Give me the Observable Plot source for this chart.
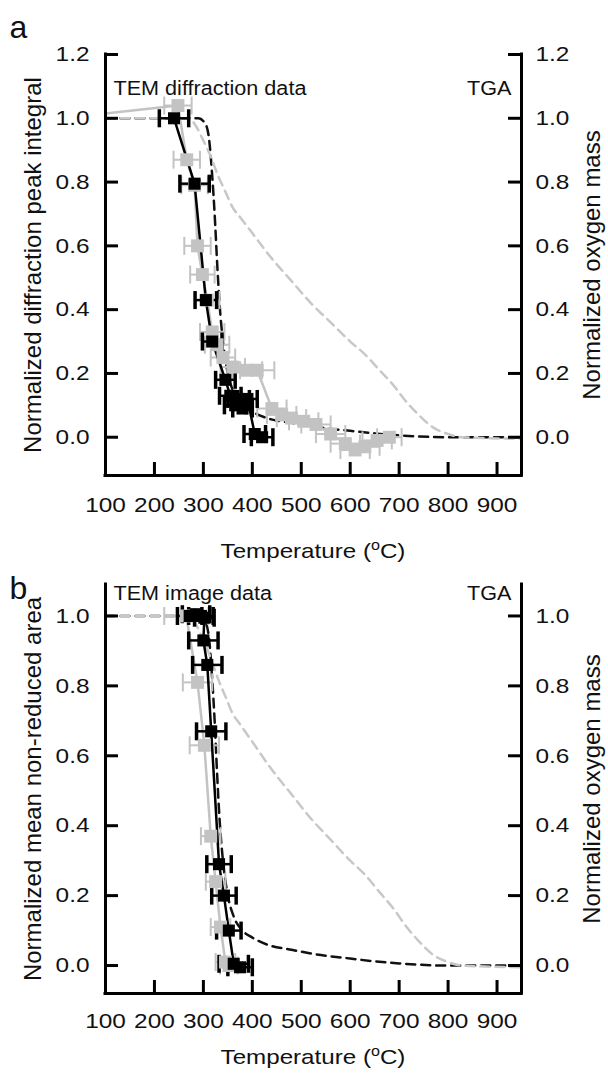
<!DOCTYPE html>
<html><head><meta charset="utf-8">
<script src="https://cdn.jsdelivr.net/npm/d3@7"></script>
<script src="https://cdn.jsdelivr.net/npm/@observablehq/plot@0.6"></script>
<style>
body{margin:0;background:#fff;}
#chart{width:608px;position:relative;}
svg{display:block;}
</style></head><body><div id="chart"></div>
<script>
// ---------- data ----------
const xTicks = [100, 200, 300, 400, 500, 600, 700, 800, 900];
const xDomain = [100, 950];
const yTicksA = [0, 0.2, 0.4, 0.6, 0.8, 1.0, 1.2];
const yDomainA = [-0.12, 1.2];
const yTicksB = [0, 0.2, 0.4, 0.6, 0.8, 1.0];
const yDomainB = [-0.08, 1.09];

// TGA curves (normalized oxygen mass)
const tgaGrayT = [100, 270, 285, 300, 315, 330, 345, 360, 375, 400, 440, 480, 520, 560, 600, 630, 660, 690, 710, 740, 770, 800, 830, 950];
const tgaGrayV = [1.0, 1.0, 0.975, 0.93, 0.88, 0.82, 0.77, 0.72, 0.69, 0.64, 0.56, 0.49, 0.42, 0.36, 0.30, 0.26, 0.21, 0.16, 0.12, 0.07, 0.03, 0.01, 0.0, -0.005];
const tgaBlackT = [100, 290, 305, 312, 318, 323, 328, 333, 340, 350, 362, 380, 400, 430, 480, 540, 600, 650, 700, 800, 950];
const tgaBlackV = [1.0, 1.0, 0.98, 0.93, 0.82, 0.70, 0.55, 0.42, 0.30, 0.20, 0.14, 0.10, 0.08, 0.06, 0.045, 0.03, 0.02, 0.012, 0.006, 0.0, 0.0];

// Panel a: TEM diffraction data
const aBlackT = [240, 282, 305, 318, 345, 355, 365, 372, 380, 390, 405, 420];
const aBlackV = [1.00, 0.795, 0.43, 0.30, 0.18, 0.13, 0.10, 0.12, 0.09, 0.12, 0.01, 0.00];
const aBlackE = [30, 30, 22, 20, 20, 22, 22, 22, 20, 20, 22, 22];
const aGrayT = [248, 266, 282, 288, 298, 308, 318, 328, 340, 360, 390, 410, 440, 460, 480, 505, 530, 560, 590, 610, 630, 655, 680];
const aGrayV = [1.04, 0.87, 0.79, 0.60, 0.51, 0.43, 0.33, 0.29, 0.25, 0.22, 0.21, 0.21, 0.09, 0.07, 0.06, 0.05, 0.04, 0.01, -0.02, -0.04, -0.03, -0.01, 0.00];
const aGrayE = [28, 27, 27, 27, 25, 25, 25, 25, 25, 25, 30, 35, 30, 30, 30, 30, 30, 30, 30, 30, 30, 30, 25];
const aGrayLineStart = {t: 100, v: 1.015};

// Panel b: TEM image data
const bBlackT = [272, 285, 295, 302, 300, 308, 316, 332, 342, 352, 362, 375];
const bBlackV = [1.00, 1.005, 1.00, 0.995, 0.93, 0.86, 0.67, 0.29, 0.20, 0.10, 0.005, -0.005];
const bBlackE = [25, 28, 25, 20, 30, 30, 30, 25, 25, 25, 30, 25];
const bGrayT = [265, 288, 302, 315, 325, 335, 345, 352];
const bGrayV = [1.00, 0.81, 0.63, 0.37, 0.24, 0.11, 0.01, 0.00];
const bGrayE = [45, 30, 30, 20, 20, 20, 20, 18];

// ---------- helpers ----------
const zip = (T, V, E) => T.map((t, i) => ({t, v: V[i], e: E ? E[i] : 0}));
const FONT = "'Liberation Sans', Arial, Helvetica, sans-serif";
const GRAY = "#c3c3c3";
const GRAYDASH = "#c8c8c8";
const vbar = {draw(ctx, size) { const r = Math.sqrt(size / Math.PI); ctx.moveTo(0, -r); ctx.lineTo(0, r); }};
const W = 608, ML = 105, MR = 87;

function seriesMarks(data, color, opt) {
  return [
    Plot.ruleY(data, {y: "v", x1: d => d.t - d.e, x2: d => d.t + d.e, stroke: color, strokeWidth: opt.barW}),
    Plot.dot(data, {x: d => d.t - d.e, y: "v", symbol: vbar, r: opt.capR, stroke: color, strokeWidth: opt.capW}),
    Plot.dot(data, {x: d => d.t + d.e, y: "v", symbol: vbar, r: opt.capR, stroke: color, strokeWidth: opt.capW})
  ];
}

function panel({height, mt, mb, yDomain, yTicks, letter, letterDy, label, labelDy, yTitle, tickPad, titleOff, black, gray, grayLine}) {
  const fw = W - ML - MR;
  const fh = height - mt - mb;
  const tga = zip(tgaGrayT, tgaGrayV);
  const tgaB = zip(tgaBlackT, tgaBlackV);
  const svg = Plot.plot({
    width: W, height, marginLeft: ML, marginRight: MR, marginTop: mt, marginBottom: mb,
    style: {fontFamily: FONT, fontSize: "21px", color: "#111", background: "#fff"},
    x: {domain: xDomain},
    y: {domain: yDomain},
    marks: [
      Plot.line(tgaB, {x: "t", y: "v", curve: "monotone-x", stroke: "#111", strokeWidth: 2.5, strokeDasharray: "9,6"}),
      Plot.line(tga, {x: "t", y: "v", curve: "monotone-x", stroke: GRAYDASH, strokeWidth: 2.5, strokeDasharray: "9,6"}),
      ...seriesMarks(gray, GRAY, {barW: 2, capR: 9, capW: 2}),
      Plot.line(grayLine, {x: "t", y: "v", stroke: GRAY, strokeWidth: 2.5}),
      ...seriesMarks(black, "#000", {barW: 2.5, capR: 9, capW: 3.5}),
      Plot.line(black, {x: "t", y: "v", stroke: "#000", strokeWidth: 2.5}),
      Plot.dot(gray, {x: "t", y: "v", symbol: "square", r: 7.3, fill: GRAY}),
      Plot.dot(black, {x: "t", y: "v", symbol: "square", r: 6.8, fill: "#000"}),
      Plot.ruleX([xDomain[0], xDomain[1]], {x: d => d, stroke: "#000", strokeWidth: 3, strokeLinecap: "square"}),
      Plot.ruleY([yDomain[0]], {y: d => d, stroke: "#000", strokeWidth: 3, strokeLinecap: "square"}),
      Plot.tickY(yTicks, {y: d => d, insetRight: fw - 13, stroke: "#000", strokeWidth: 3}),
      Plot.tickY(yTicks, {y: d => d, insetLeft: fw - 13, stroke: "#000", strokeWidth: 3}),
      Plot.tickX(xTicks, {x: d => d, insetTop: fh - 13, stroke: "#000", strokeWidth: 3}),
      Plot.axisY(yTicks, {anchor: "left", tickSize: 0, tickPadding: 16, tickFormat: d3.format(".1f"), label: null, fontSize: 21}),
      Plot.axisY(yTicks, {anchor: "right", tickSize: 0, tickPadding: 14, tickFormat: d3.format(".1f"), label: null, fontSize: 21}),
      Plot.axisX(xTicks, {anchor: "bottom", tickSize: 0, tickPadding: tickPad, label: null, fontSize: 21}),
      Plot.text([yTitle], {frameAnchor: "left", rotate: -90, dx: -72, textAnchor: "middle", lineAnchor: "middle", fontSize: 24, fill: "#111"}),
      Plot.text(["Normalized oxygen mass"], {frameAnchor: "right", rotate: -90, dx: 71, textAnchor: "middle", lineAnchor: "middle", fontSize: 24, fill: "#111"}),
      Plot.text([label], {frameAnchor: "top-left", dx: 8, dy: labelDy, textAnchor: "start", lineAnchor: "middle", fontSize: 20, fill: "#111"}),
      Plot.text(["TGA"], {frameAnchor: "top-right", dx: -10, dy: labelDy, textAnchor: "end", lineAnchor: "middle", fontSize: 20, fill: "#111"}),
      Plot.text([letter], {frameAnchor: "top-left", dx: -87, dy: letterDy, textAnchor: "middle", lineAnchor: "middle", fontSize: 32, fill: "#111"})
    ]
  });
  const s = d3.select(svg);
  const t = s.append("text")
    .attr("class", "xtitle")
    .attr("x", ML + fw / 2).attr("y", mt + fh + titleOff + 7)
    .attr("text-anchor", "middle").attr("font-size", 21).attr("fill", "#111")
    .attr("font-family", FONT);
  t.append("tspan").text("Temperature (");
  t.append("tspan").attr("font-size", 14).attr("dy", -8).text("o");
  t.append("tspan").attr("dy", 8).text("C)");
  return svg;
}

// horizontally widen upright texts to match the reference's wide glyphs
function widen(svg) {
  svg.querySelectorAll("text").forEach(el => {
    const tr = el.getAttribute("transform") || "";
    if (tr.includes("rotate")) return;
    const txt = el.textContent.trim();
    let f = 1.0;
    if (/^[\d.]+$/.test(txt)) f = 1.16;
    else if (el.classList.contains("xtitle")) f = 1.15;
    else if (txt.length > 1) f = 1.08;
    if (f === 1.0) return;
    const L = el.getComputedTextLength();
    el.setAttribute("textLength", (L * f).toFixed(1));
    el.setAttribute("lengthAdjust", "spacingAndGlyphs");
  });
}

const aBlack = zip(aBlackT, aBlackV, aBlackE);
const aGray = zip(aGrayT, aGrayV, aGrayE);
const bBlack = zip(bBlackT, bBlackV, bBlackE);
const bGray = zip(bGrayT, bGrayV, bGrayE);

const root = document.getElementById("chart");
const svgA = panel({
  height: 570, mt: 54, mb: 95, yDomain: yDomainA, yTicks: yTicksA, letter: "a", letterDy: -27,
  label: "TEM diffraction data", labelDy: 34, yTitle: "Normalized diffraction peak integral",
  tickPad: 22, titleOff: 76,
  black: aBlack, gray: aGray, grayLine: [aGrayLineStart, ...aGray]
});
const svgB = panel({
  height: 505, mt: 14, mb: 82, yDomain: yDomainB, yTicks: yTicksB, letter: "b", letterDy: 4,
  label: "TEM image data", labelDy: 9, yTitle: "Normalized mean non-reduced area",
  tickPad: 20, titleOff: 64,
  black: bBlack, gray: bGray, grayLine: bGray
});
root.append(svgA);
root.append(svgB);
widen(svgA);
widen(svgB);
</script></body></html>
